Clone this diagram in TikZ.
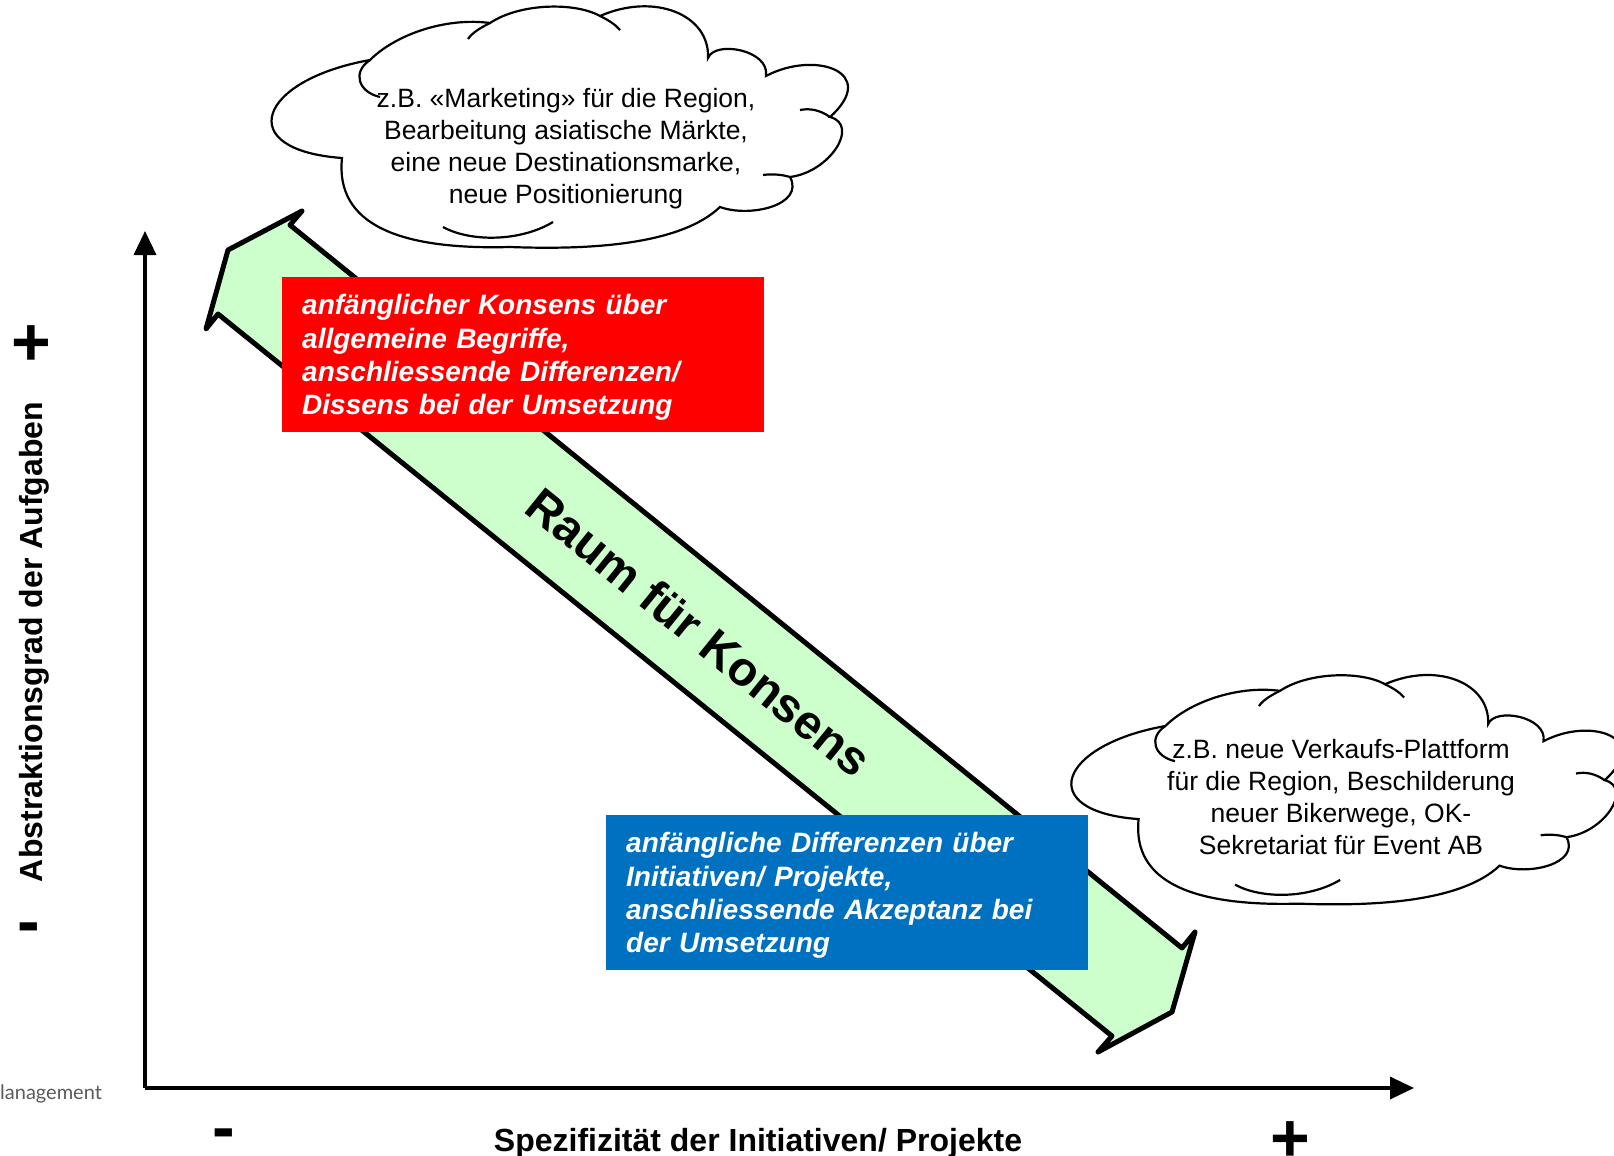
\documentclass[tikz,border=0pt]{standalone}
\usepackage{fontspec}
\setmainfont{Liberation Sans}
\newfontfamily\logofont{Lato}
\usetikzlibrary{arrows.meta}
\definecolor{konsgreen}{HTML}{CCFFCC}
\definecolor{dissred}{HTML}{FF0000}
\definecolor{akzblue}{HTML}{0070C0}
\definecolor{logogrey}{HTML}{5A5A5A}
% outline of the cloud, drawn twice
\newcommand{\cloudoutline}{(370,60) .. controls (258,80) and (232,150) .. (342,158)
  .. controls (335,225) and (400,250) .. (510,247)
  .. controls (590,250) and (680,245) .. (720,207)
  .. controls (750,218) and (805,205) .. (790,177)
  .. controls (830,172) and (860,125) .. (830,117)
  .. controls (880,72) and (815,50) .. (766,76)
  .. controls (770,50) and (715,40) .. (708,58)
  .. controls (710,15) and (655,-8) .. (600,16)
  .. controls (575,2) and (520,3) .. (490,23)
  .. controls (445,17) and (395,35) .. (370,60) -- cycle}
\newcommand{\cloudinner}{(370,60) .. controls (352,72) and (358,92) .. (380,97)
  (490,23) .. controls (480,28) and (472,33) .. (468,39)
  (600,16) .. controls (608,20) and (615,24) .. (620,30)
  (830,117) .. controls (820,110) and (810,108) .. (800,110)
  (790,177) .. controls (780,174) and (770,174) .. (763,175)
  (443,227) .. controls (470,242) and (520,242) .. (553,222)}

\begin{document}
\begin{tikzpicture}[x=1pt, y=-1pt,
    cloudline/.style={line width=2.2pt, fill=white},
    cloudtext/.style={font=\fontsize{26.5}{32}\selectfont, align=center, inner sep=0pt},
    boxtext/.style={font=\fontsize{28}{33.3}\selectfont\bfseries\itshape, text=white,
      align=left, anchor=north west, text width=442pt, inner xsep=20pt, inner ysep=0pt,
      minimum width=482pt, minimum height=155pt},
    axislabel/.style={font=\fontsize{32}{38}\selectfont\bfseries, inner sep=0pt},
    signmark/.style={font=\fontsize{68}{80}\selectfont\bfseries, inner sep=0pt, anchor=base},
    axisline/.style={line width=3.5pt, -{Triangle[length=24pt,width=22pt]}},
    bigarrow/.style={fill=konsgreen, draw=black, line width=5pt, line join=round}]
  \useasboundingbox (0,0) rectangle (1614,1156);
  %
  \coordinate (a1) at (302,211);   % upper left head
  \coordinate (t1) at (228,250);
  \coordinate (a2) at (206,329);
  \coordinate (n2) at (218,314);
  \coordinate (n3) at (1112,1036); % lower right head
  \coordinate (b2) at (1098,1052);
  \coordinate (t2) at (1172,1012);
  \coordinate (b1) at (1195,932);
  \coordinate (n4) at (1182,948);
  \coordinate (n1) at (290,225);
  \draw[bigarrow] (a1) -- (t1) -- (a2) -- (n2) -- (n3) -- (b2) -- (t2) -- (b1) -- (n4) -- (n1) -- cycle;
  \node[font=\fontsize{48}{56}\selectfont\bfseries, rotate=-39] (raum) at (699,632) {Raum für Konsens};
  %
  \draw[cloudline] \cloudoutline; % top cloud
  \draw[line width=2.2pt] \cloudinner;
  \node[cloudtext] (cloudtop) at (566,149) {z.B. «Marketing» für die Region,\\Bearbeitung asiatische Märkte,\\eine neue Destinationsmarke,\\neue Positionierung};
  %
  \begin{scope}[shift={(812,669)}, xscale=0.955, yscale=0.95] % bottom cloud
    \draw[cloudline] \cloudoutline;
    \draw[line width=2.2pt] \cloudinner;
  \end{scope}
  \node[cloudtext] (cloudbot) at (1341,797) {z.B. neue Verkaufs-Plattform\\für die Region, Beschilderung\\neuer Bikerwege, OK-\\Sekretariat für Event AB};
  %
  \node[boxtext, fill=dissred] (dissens) at (282,277) {\rule{0pt}{26pt}anfänglicher Konsens über\\allgemeine Begriffe,\\anschliessende Differenzen/\\Dissens bei der Umsetzung};
  \node[boxtext, fill=akzblue] (akzeptanz) at (606,815) {\rule{0pt}{26pt}anfängliche Differenzen über\\Initiativen/ Projekte,\\anschliessende Akzeptanz bei\\der Umsetzung};
  %
  \coordinate (origin) at (145,1088); % axes
  \coordinate (ytip) at (145,231);
  \coordinate (xtip) at (1414,1088);
  \draw[axisline] (origin) -- (ytip);
  \draw[axisline] (origin) -- (xtip);
  %
  \node[axislabel, rotate=90, anchor=base] (ylabel) at (42,642) {Abstraktionsgrad der Aufgaben};
  \node[axislabel, anchor=base] (xlabel) at (758,1151) {Spezifizität der Initiativen/ Projekte};
  \node[signmark] (yplus) at (31,365) {+};
  \node[signmark] (yminus) at (29,944) {-};
  \node[signmark] (xminus) at (224,1150) {-};
  \node[signmark] (xplus) at (1290,1161) {+};
  %
  \node[font=\logofont\fontsize{20}{24}\selectfont, text=logogrey, anchor=base west, inner sep=0pt] (logo) at (0,1099) {lanagement};
\end{tikzpicture}
\end{document}
